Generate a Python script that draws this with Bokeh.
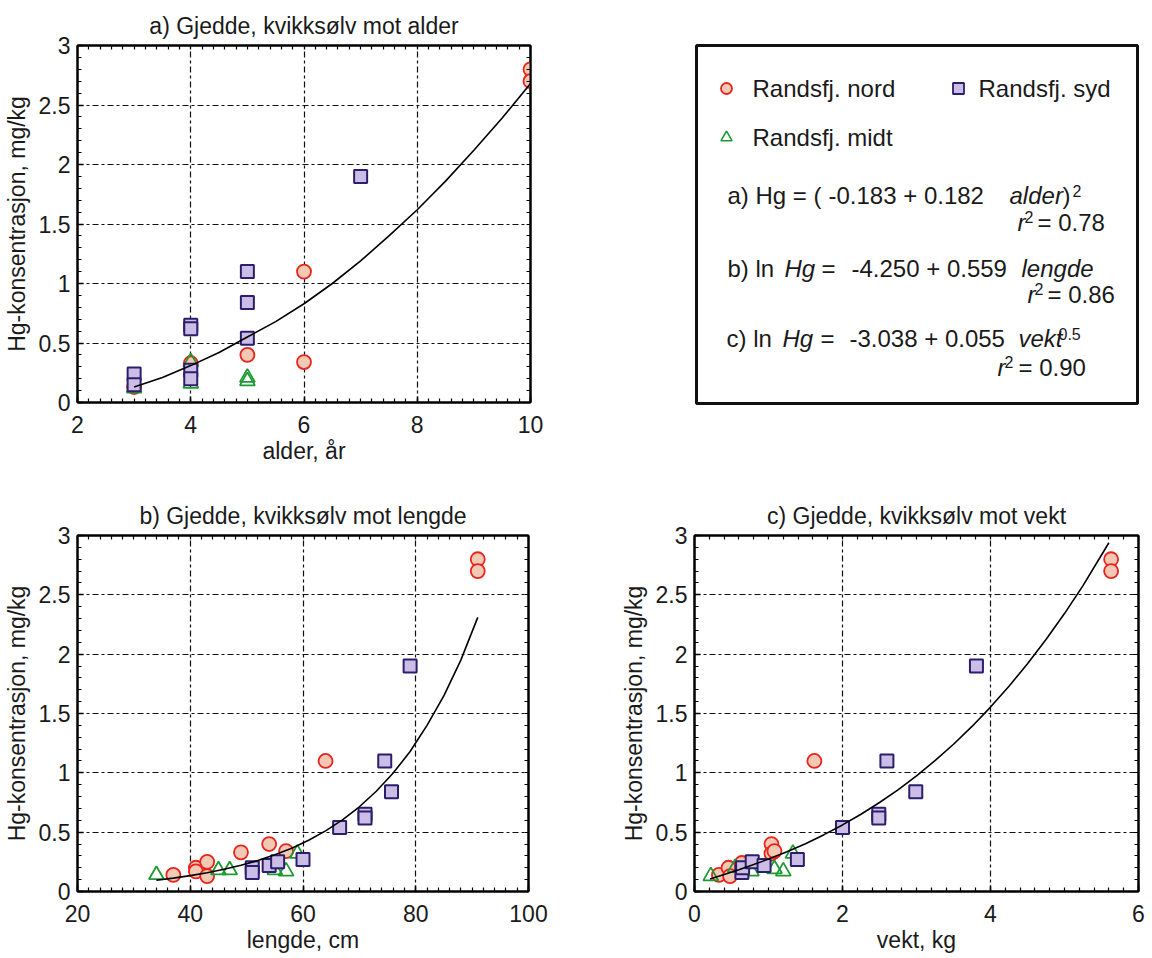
from bokeh.plotting import figure
from bokeh.layouts import column, row
from bokeh.models import FixedTicker, LinearAxis, Range1d, Label, Grid
from bokeh.embed import file_html
from bokeh.resources import INLINE

FONT = "Liberation Sans"

# ---------------- data ----------------
# a) Hg vs age (alder, år)
nord_a_x = [3, 4, 5, 6, 6, 10, 10]
nord_a_y = [0.13, 0.33, 0.40, 1.10, 0.34, 2.80, 2.70]
midt_a_x = [3, 4, 4, 5, 5]
midt_a_y = [0.12, 0.34, 0.16, 0.21, 0.18]
syd_a_x = [3, 3, 4, 4, 4, 4, 5, 5, 5, 7]
syd_a_y = [0.24, 0.15, 0.65, 0.62, 0.27, 0.20, 1.10, 0.84, 0.54, 1.90]
curve_a_x = [3, 3.5, 4, 4.5, 5, 5.5, 6, 6.5, 7, 7.5, 8, 8.5, 9, 9.5, 10]
curve_a_y = [0.13, 0.21, 0.31, 0.42, 0.55, 0.68, 0.83, 1.00, 1.19, 1.40, 1.62, 1.86, 2.12, 2.39, 2.68]

# b) Hg vs length (lengde, cm)
nord_b_x = [37, 41, 41, 43, 43, 49, 54, 57, 64, 91, 91]
nord_b_y = [0.14, 0.20, 0.17, 0.25, 0.13, 0.33, 0.40, 0.34, 1.10, 2.80, 2.70]
midt_b_x = [34, 45, 47, 55, 57, 59]
midt_b_y = [0.14, 0.18, 0.18, 0.18, 0.17, 0.32]
syd_b_x = [51, 51, 54, 55.5, 60, 66.5, 71, 71, 74.5, 75.7, 79]
syd_b_y = [0.20, 0.16, 0.22, 0.25, 0.27, 0.54, 0.65, 0.62, 1.10, 0.84, 1.90]
curve_b_x = [34, 37, 40, 43, 46, 49, 52, 55, 58, 61, 64, 67, 70, 73, 76, 79, 82, 85, 88, 91]
curve_b_y = [0.095, 0.113, 0.134, 0.158, 0.187, 0.221, 0.261, 0.309, 0.365, 0.432, 0.511,
             0.604, 0.714, 0.845, 0.998, 1.18, 1.40, 1.65, 1.95, 2.31]

# c) Hg vs weight (vekt, kg)
nord_c_x = [0.33, 0.46, 0.48, 0.64, 1.04, 1.04, 1.08, 1.62, 5.63, 5.63]
nord_c_y = [0.14, 0.20, 0.13, 0.24, 0.40, 0.32, 0.34, 1.10, 2.80, 2.70]
midt_c_x = [0.22, 0.55, 0.77, 1.08, 1.20, 1.33]
midt_c_y = [0.13, 0.20, 0.17, 0.19, 0.17, 0.32]
syd_c_x = [0.64, 0.65, 0.78, 0.94, 1.39, 2.0, 2.49, 2.49, 2.60, 2.99, 3.81]
syd_c_y = [0.16, 0.20, 0.25, 0.22, 0.27, 0.54, 0.65, 0.62, 1.10, 0.84, 1.90]
curve_c_x = [0.21, 0.4, 0.6, 0.8, 1.0, 1.25, 1.5, 1.75, 2.0, 2.25, 2.5, 2.75, 3.0,
             3.25, 3.5, 3.75, 4.0, 4.25, 4.5, 4.75, 5.0, 5.25, 5.6]
curve_c_y = [0.106, 0.144, 0.184, 0.227, 0.273, 0.335, 0.403, 0.479, 0.561, 0.651, 0.750,
             0.857, 0.974, 1.103, 1.241, 1.391, 1.554, 1.730, 1.919, 2.123, 2.342, 2.578, 2.939]

# ticks
y_ticks = [0, 0.5, 1, 1.5, 2, 2.5, 3]
y_tick_labels = ["0", "0.5", "1", "1.5", "2", "2.5", "3"]
y_minor = [round(0.1 * i, 2) for i in range(31)]
xa_ticks = [2, 4, 6, 8, 10]
xa_minor = [round(2 + 0.2 * i, 2) for i in range(41)]
xb_ticks = [20, 40, 60, 80, 100]
xb_minor = [20 + 2 * i for i in range(41)]
xc_ticks = [0, 2, 4, 6]
xc_minor = [round(0.2 * i, 2) for i in range(31)]

titles = ["a) Gjedde, kvikksølv mot alder",
          "b) Gjedde, kvikksølv mot lengde",
          "c) Gjedde, kvikksølv mot vekt"]
x_labels = ["alder, år", "lengde, cm", "vekt, kg"]
y_label = "Hg-konsentrasjon, mg/kg"
series_names = ["Randsfj. nord", "Randsfj. syd", "Randsfj. midt"]

NORD_LINE, NORD_FILL = "#e8241c", "#f3c9b5"
SYD_LINE, SYD_FILL = "#2b1f6b", "#cbbde6"
MIDT_LINE = "#1e9a32"
TXT = "#1a1a1a"


def panel(title, xr, xticks, xminor, xlab, nord, midt, syd, curve,
          left, fw, right, top, fh, bottom):
    p = figure(title=title, x_range=Range1d(*xr), y_range=Range1d(0, 3),
               frame_width=fw, frame_height=fh,
               min_border_left=left, min_border_right=right,
               min_border_top=top, min_border_bottom=bottom,
               output_backend="svg", toolbar_location=None,
               x_axis_type=None, y_axis_type=None,
               background_fill_color="white", border_fill_color="white")
    p.title.text_font = FONT
    p.title.text_font_size = "23px"
    p.title.text_font_style = "normal"
    p.title.align = "center"
    p.title.text_color = TXT
    p.title.standoff = 14

    xt = FixedTicker(ticks=xticks, minor_ticks=xminor)
    yt = FixedTicker(ticks=y_ticks, minor_ticks=y_minor)
    xlabels = {float(t): str(t) for t in xticks}
    ylabels = {float(t): l for t, l in zip(y_ticks, y_tick_labels)}

    xa = LinearAxis(ticker=xt, axis_label=xlab, major_label_overrides=xlabels)
    ya = LinearAxis(ticker=yt, axis_label=y_label, major_label_overrides=ylabels)
    for ax in (xa, ya):
        ax.axis_label_text_font = FONT
        ax.axis_label_text_font_size = "23px"
        ax.axis_label_text_font_style = "normal"
        ax.axis_label_text_color = TXT
        ax.major_label_text_font = FONT
        ax.major_label_text_font_size = "23px"
        ax.major_label_text_color = TXT
        ax.major_tick_in = 6
        ax.major_tick_out = 0
        ax.minor_tick_in = 4
        ax.minor_tick_out = 0
        ax.axis_line_width = 2
        ax.major_tick_line_width = 1.5
        ax.minor_tick_line_width = 1.2
        ax.axis_line_color = "black"
    xa.major_label_standoff = 13
    xa.axis_label_standoff = 2
    ya.major_label_standoff = 7
    ya.axis_label_standoff = 6
    p.add_layout(xa, "below")
    p.add_layout(ya, "left")

    # mirrored minor ticks on top and right spines (no major ticks drawn there)
    xt2 = FixedTicker(ticks=[], minor_ticks=xminor)
    yt2 = FixedTicker(ticks=[], minor_ticks=y_minor)
    top_ax = LinearAxis(ticker=xt2)
    right_ax = LinearAxis(ticker=yt2)
    for ax in (top_ax, right_ax):
        ax.minor_tick_in = 4
        ax.minor_tick_out = 0
        ax.major_tick_in = 0
        ax.major_tick_out = 0
        ax.major_label_standoff = 0
        ax.axis_line_width = 2
        ax.minor_tick_line_width = 1.2
    top_ax.major_tick_out = 4   # empty tick list: only reserves a little room below the title
    p.add_layout(top_ax, "above")
    p.add_layout(right_ax, "right")

    gx = Grid(dimension=0, ticker=FixedTicker(ticks=xticks))
    gy = Grid(dimension=1, ticker=FixedTicker(ticks=y_ticks))
    for g in (gx, gy):
        g.grid_line_color = "#111111"
        g.grid_line_dash = "6 3 3 3"
        g.grid_line_width = 1.2
        p.add_layout(g, "center")

    p.outline_line_color = "black"
    p.outline_line_width = 2

    p.scatter(nord[0], nord[1], marker="circle", size=14,
              fill_color=NORD_FILL, line_color=NORD_LINE, line_width=1.8)
    p.scatter(midt[0], midt[1], marker="triangle", size=15,
              fill_color=None, line_color=MIDT_LINE, line_width=1.8)
    p.scatter(syd[0], syd[1], marker="square", size=13,
              fill_color=SYD_FILL, line_color=SYD_LINE, line_width=2)
    p.line(curve[0], curve[1], line_color="black", line_width=1.6)
    return p


fa = panel(titles[0], (2, 10), xa_ticks, xa_minor, x_labels[0],
           (nord_a_x, nord_a_y), (midt_a_x, midt_a_y), (syd_a_x, syd_a_y),
           (curve_a_x, curve_a_y),
           left=70, fw=453, right=20, top=45, fh=357, bottom=67)

fb = panel(titles[1], (20, 100), xb_ticks, xb_minor, x_labels[1],
           (nord_b_x, nord_b_y), (midt_b_x, midt_b_y), (syd_b_x, syd_b_y),
           (curve_b_x, curve_b_y),
           left=68, fw=451, right=73, top=65, fh=356, bottom=67)

fc = panel(titles[2], (0, 6), xc_ticks, xc_minor, x_labels[2],
           (nord_c_x, nord_c_y), (midt_c_x, midt_c_y), (syd_c_x, syd_c_y),
           (curve_c_x, curve_c_y),
           left=93, fw=444, right=7, top=65, fh=356, bottom=67)

# ---------------- legend / equation box ----------------
LW, LH = 441, 358
fl = figure(x_range=Range1d(0, LW), y_range=Range1d(LH, 0),
            frame_width=LW, frame_height=LH,
            min_border_left=146, min_border_right=6, min_border_top=45,
            min_border_bottom=67, x_axis_type=None, y_axis_type=None,
            output_backend="svg", toolbar_location=None,
            background_fill_color="white", border_fill_color="white")
fl.grid.visible = False
fl.outline_line_color = "#111111"
fl.outline_line_width = 3

# legend keys (layout positions inside the box, in pixels)
fl.scatter([30], [43], marker="circle", size=11, fill_color=NORD_FILL,
           line_color=NORD_LINE, line_width=1.8)
fl.scatter([262], [43], marker="square", size=11, fill_color=SYD_FILL,
           line_color=SYD_LINE, line_width=1.8)
fl.scatter([30], [92], marker="triangle", size=11, fill_color=None,
           line_color=MIDT_LINE, line_width=1.6)


def lab(x, y, text, size="24px", style="normal"):
    fl.add_layout(Label(x=x, y=y, text=text, text_font=FONT, text_font_size=size,
                        text_font_style=style, text_baseline="middle",
                        text_color=TXT))


lab(56, 43, series_names[0])
lab(282, 43, series_names[1])
lab(56, 92, series_names[2])

# a) equation
lab(31, 150, "a) Hg = (")
lab(132, 150, "-0.183 + 0.182")
lab(313, 150, "alder", style="italic")
lab(366, 150, ")")
lab(376, 145, "2", size="16px")
lab(321, 177, "r", style="italic")
lab(328, 171, "2", size="16px")
lab(341, 177, "= 0.78")

# b) equation
lab(31, 223, "b) ln")
lab(88, 223, "Hg", style="italic")
lab(125, 223, "=")
lab(155, 223, "-4.250 + 0.559")
lab(325, 223, "lengde", style="italic")
lab(331, 249, "r", style="italic")
lab(338, 243, "2", size="16px")
lab(351, 249, "= 0.86")

# c) equation
lab(30, 293, "c) ln")
lab(86, 293, "Hg", style="italic")
lab(124, 293, "=")
lab(153, 293, "-3.038 + 0.055")
lab(322, 293, "vekt", style="italic")
lab(362, 288, "0.5", size="16px")
lab(301, 322, "r", style="italic")
lab(308, 316, "2", size="16px")
lab(322, 322, "= 0.90")

layout = column(row(fa, fl), row(fb, fc))

with open("out.html", "w") as f:
    f.write(file_html(layout, INLINE))
